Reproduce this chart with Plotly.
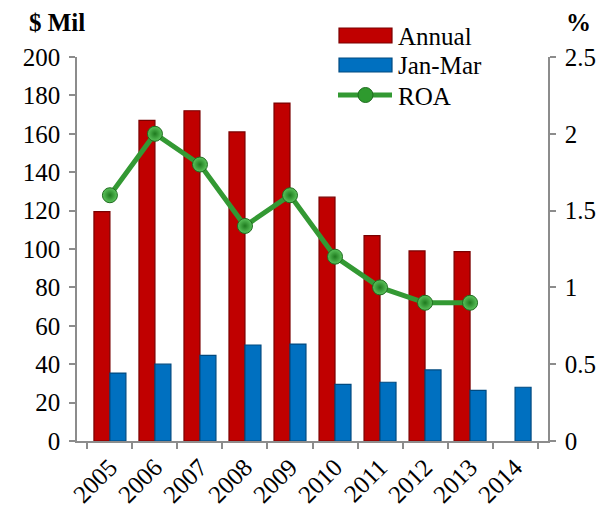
import plotly.graph_objects as go

years = ["2005", "2006", "2007", "2008", "2009", "2010", "2011", "2012", "2013", "2014"]
annual = [119.5, 167, 172, 161, 176, 127, 107, 99, 98.6, None]
jan_mar = [35.4, 40, 44.6, 50, 50.5, 29.5, 30.6, 37, 26.4, 28]
roa = [1.6, 2.0, 1.8, 1.4, 1.6, 1.2, 1.0, 0.9, 0.9, None]
left_ticks = list(range(0, 201, 20))
right_ticks = [0, 0.5, 1, 1.5, 2, 2.5]
right_tick_text = ["0", "0.5", "1", "1.5", "2", "2.5"]

FONT = "Liberation Serif, Times New Roman, serif"
RED = "#C00000"
BLUE = "#0070C0"
GREEN = "#339933"
AXIS = "#8C8C8C"

fig = go.Figure()
fig.add_trace(go.Bar(x=years, y=annual, name="Annual",
                     marker=dict(color=RED, line=dict(color="#7A0000", width=1.2)),
                     showlegend=False))
fig.add_trace(go.Bar(x=years, y=jan_mar, name="Jan-Mar",
                     marker=dict(color=BLUE, line=dict(color="#004A80", width=1.2)),
                     showlegend=False))
fig.add_trace(go.Scatter(x=years, y=roa, name="ROA", yaxis="y2", mode="lines+markers",
                         line=dict(color=GREEN, width=5),
                         marker=dict(size=15, color="#5CC45C",
                                     gradient=dict(type="radial", color="#1E7A1E"),
                                     line=dict(color="#1E6B1E", width=1)),
                         showlegend=False))

# plot area: x 77..548, y 57..441 px
W, H = 604, 515
L, R, T, B = 77, 548, 57, 441

def px(X):
    return (X - L) / (R - L)

def py(Y):
    return (B - Y) / (B - T)

shapes = [
    dict(type="rect", xref="paper", yref="paper", x0=px(339), x1=px(392), y0=py(43), y1=py(28),
         fillcolor=RED, line=dict(color="#7A0000", width=1.2)),
    dict(type="rect", xref="paper", yref="paper", x0=px(339), x1=px(392), y0=py(72), y1=py(58),
         fillcolor=BLUE, line=dict(color="#004A80", width=1.2)),
    dict(type="line", xref="paper", yref="paper", x0=px(338), x1=px(392), y0=py(95), y1=py(95),
         line=dict(color=GREEN, width=5)),
    dict(type="circle", xref="paper", yref="paper", x0=px(358), x1=px(373), y0=py(102.5), y1=py(87.5),
         fillcolor="#2E9A2E", line=dict(color="#1E6B1E", width=1)),
]

annotations = [
    dict(text="Annual", xref="paper", yref="paper", x=px(396), y=py(36), xanchor="left", yanchor="middle",
         showarrow=False, font=dict(family=FONT, size=25, color="black")),
    dict(text="Jan-Mar", xref="paper", yref="paper", x=px(396), y=py(65), xanchor="left", yanchor="middle",
         showarrow=False, font=dict(family=FONT, size=25, color="black")),
    dict(text="ROA", xref="paper", yref="paper", x=px(396), y=py(96), xanchor="left", yanchor="middle",
         showarrow=False, font=dict(family=FONT, size=25, color="black")),
    dict(text="<b>$ Mil</b>", xref="paper", yref="paper", x=px(27), y=py(22), xanchor="left", yanchor="middle",
         showarrow=False, font=dict(family=FONT, size=25, color="black")),
    dict(text="<b>%</b>", xref="paper", yref="paper", x=px(578), y=py(22), xanchor="center", yanchor="middle",
         showarrow=False, font=dict(family=FONT, size=25, color="black")),
]

axis_common = dict(ticks="outside", ticklen=6, tickcolor=AXIS, tickwidth=1.5, showline=True,
                   linecolor=AXIS, linewidth=1.5, showgrid=False, zeroline=False,
                   automargin=False, tickfont=dict(family=FONT, size=25, color="black"))

fig.update_layout(
    width=W, height=H,
    margin=dict(l=L, r=W - R, t=T, b=H - B, autoexpand=False),
    paper_bgcolor="white", plot_bgcolor="white",
    barmode="group", bargap=0.29, bargroupgap=0,
    font=dict(family=FONT, size=25, color="black"),
    shapes=shapes, annotations=annotations,
    showlegend=False,
    xaxis=dict(type="category", tickangle=-45, tickson="boundaries", **axis_common),
    yaxis=dict(range=[0, 200], tickvals=left_ticks, ticklabelstandoff=4, **axis_common),
    yaxis2=dict(range=[0, 2.5], tickvals=right_ticks, ticktext=right_tick_text, overlaying="y",
                side="right", ticklabelstandoff=4, **axis_common),
)

fig.write_html("out.html", config={"displayModeBar": False},
               post_script="document.body.style.margin='0';document.body.style.padding='0';")
